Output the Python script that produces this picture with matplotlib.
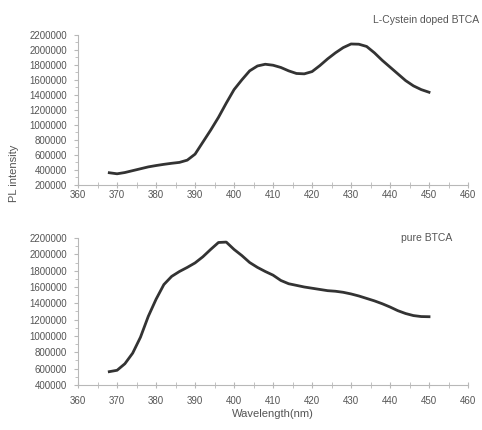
import numpy as np
import matplotlib
matplotlib.use('Agg')
import matplotlib.pyplot as plt
from matplotlib.ticker import MultipleLocator

plt.rcParams['font.family'] = ['Liberation Sans', 'DejaVu Sans']

# spectre L-Cystein doped BTCA
wl_doped = [368, 370, 372, 374, 376, 378, 380, 382, 384, 386, 388, 390,
            392, 394, 396, 398, 400, 402, 404, 406, 408, 410, 412, 414,
            416, 418, 420, 422, 424, 426, 428, 430, 432, 434, 436, 438,
            440, 442, 444, 446, 448, 450]
pl_doped = [362000, 348000, 365000, 390000, 415000, 440000, 458000, 474000,
            488000, 500000, 530000, 610000, 770000, 930000, 1100000, 1290000,
            1470000, 1600000, 1720000, 1785000, 1808000, 1795000, 1765000,
            1720000, 1685000, 1680000, 1710000, 1790000, 1880000, 1960000,
            2030000, 2078000, 2075000, 2045000, 1960000, 1860000, 1770000,
            1680000, 1590000, 1520000, 1470000, 1435000]

# spectre pure BTCA
wl_pure = [368, 370, 372, 374, 376, 378, 380, 382, 384, 386, 388, 390,
           392, 394, 396, 398, 400, 402, 404, 406, 408, 410, 412, 414,
           416, 418, 420, 422, 424, 426, 428, 430, 432, 434, 436, 438,
           440, 442, 444, 446, 448, 450]
pl_pure = [563000, 580000, 660000, 790000, 985000, 1240000, 1450000, 1630000,
           1730000, 1790000, 1840000, 1895000, 1970000, 2060000, 2145000,
           2150000, 2060000, 1985000, 1900000, 1840000, 1790000, 1745000,
           1680000, 1640000, 1620000, 1600000, 1585000, 1570000, 1555000,
           1548000, 1535000, 1515000, 1490000, 1460000, 1430000, 1395000,
           1355000, 1310000, 1275000, 1250000, 1238000, 1236000]

fig = plt.figure(figsize=(4.82, 4.30), dpi=100)
ax1 = fig.add_axes([0.162, 0.570, 0.809, 0.349])
ax2 = fig.add_axes([0.162, 0.1047, 0.809, 0.3418])

axis_col = '#b8b8b8'
text_col = '#555555'
line_col = '#333333'


def style(ax, ymin, ymax, xpad):
    for s in ['top', 'right']:
        ax.spines[s].set_visible(False)
    for s in ['left', 'bottom']:
        ax.spines[s].set_color(axis_col)
        ax.spines[s].set_linewidth(0.8)
    ax.set_xlim(360, 460)
    ax.set_ylim(ymin, ymax)
    ax.xaxis.set_major_locator(MultipleLocator(10))
    ax.xaxis.set_minor_locator(MultipleLocator(5))
    ax.yaxis.set_major_locator(MultipleLocator(200000))
    ax.yaxis.set_minor_locator(MultipleLocator(100000))
    ax.tick_params(axis='x', which='both', direction='inout', length=4,
                   color=axis_col, labelsize=7, labelcolor=text_col, pad=xpad)
    ax.tick_params(axis='y', which='major', direction='out', length=3,
                   color=axis_col, labelsize=7, labelcolor=text_col, pad=5)
    ax.tick_params(axis='y', which='minor', direction='out', length=2,
                   color=axis_col)
    ax.ticklabel_format(axis='y', style='plain', useOffset=False)


ax1.plot(wl_doped, pl_doped, color=line_col, linewidth=2.0)
style(ax1, 200000, 2200000, 2)
ax1.set_ylabel('PL intensity', fontsize=8, color=text_col)
ax1.yaxis.set_label_coords(-0.152, 0.08)
fig.text(0.995, 0.953, 'L-Cystein doped BTCA', ha='right', va='center',
         fontsize=7.5, color=text_col)

ax2.plot(wl_pure, pl_pure, color=line_col, linewidth=2.0)
style(ax2, 400000, 2200000, 6)
ax2.set_xlabel('Wavelength(nm)', fontsize=8, color=text_col, labelpad=2)
ax2.text(0.96, 1.0, 'pure BTCA', transform=ax2.transAxes, ha='right',
         va='center', fontsize=7.5, color=text_col)

fig.savefig('out.png', dpi=100)
